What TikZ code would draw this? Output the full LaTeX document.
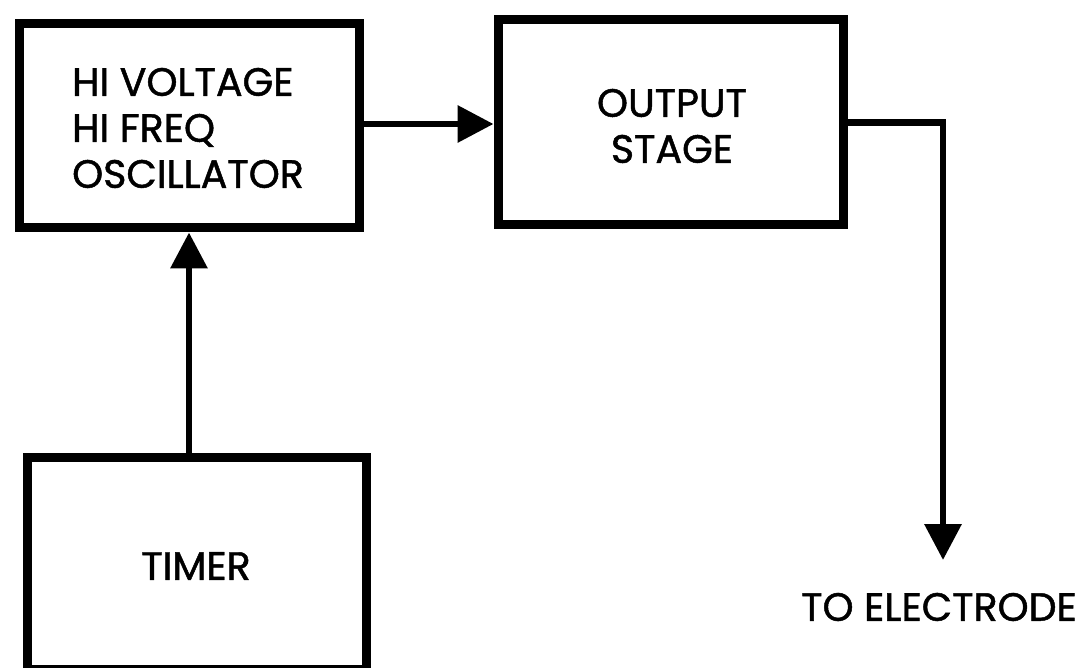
\documentclass[tikz,border=0pt]{standalone}
\usepackage{fontspec}
\setmainfont{Poppins}
\newfontfamily\lblfont{Poppins}[FakeBold=1.2]
\usetikzlibrary{arrows.meta}
\tikzset{
  blockbox/.style={draw=black, line width=9pt, fill=white, inner sep=0pt},
  conn/.style={draw=black, line width=6.5pt, -{Triangle[length=36pt,width=36pt]}},
  lbl/.style={font=\lblfont\fontsize{39.5}{46}\selectfont, inner sep=0pt}
}
\begin{document}
\begin{tikzpicture}[x=1pt,y=-1pt]
\useasboundingbox (0,0) rectangle (1079,668);
\clip (0,0) rectangle (1079,668);
\fill[white] (0,0) rectangle (1079,668);
\node[blockbox, minimum width=340pt, minimum height=204pt] (osc) at (189,126) {};
\node[lbl, align=left] (osctext) at (188,128) {HI VOLTAGE\\HI FREQ\\OSCILLATOR};
\node[blockbox, minimum width=345pt, minimum height=205pt] (out) at (670.5,122.5) {};
\node[lbl, align=center] (outtext) at (672,126) {OUTPUT\\STAGE};
\node[blockbox, minimum width=339pt, minimum height=212pt] (timer) at (196.5,563) {};
\node[lbl] (timertext) at (196,566) {TIMER};
\coordinate (tip) at (943,560);
\node[lbl] (electrode) at (939,607) {TO ELECTRODE};
\draw[conn] (osc.east |- 0,124) -- (out.west |- 0,124);
\draw[conn] (out.east) -| (tip);
\draw[conn] (osc.south |- timer.north) -- (osc.south);
\end{tikzpicture}
\end{document}
